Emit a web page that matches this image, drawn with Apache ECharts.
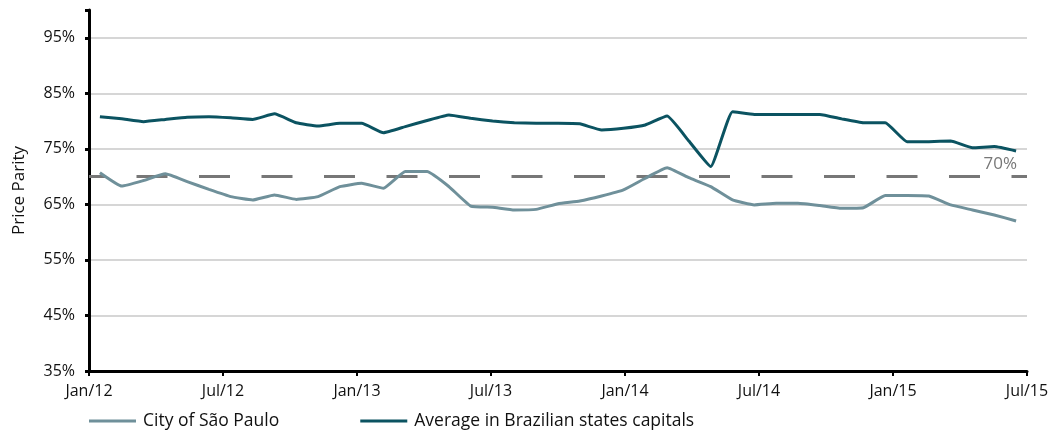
<!DOCTYPE html>
<html>
<head>
<meta charset="utf-8">
<script src="https://cdn.jsdelivr.net/npm/echarts@6/dist/echarts.min.js"></script>
<style>
  html, body { margin: 0; padding: 0; background: #fff; }
  #chart { width: 1053px; height: 432px; }
</style>
</head>
<body>
<div id="chart"></div>
<script>
// monthly points, Jan/12 .. Jul/15
const months = [
  'Jan/12', 'Feb/12', 'Mar/12', 'Apr/12', 'May/12', 'Jun/12', 'Jul/12', 'Aug/12', 'Sep/12', 'Oct/12', 'Nov/12', 'Dec/12',
  'Jan/13', 'Feb/13', 'Mar/13', 'Apr/13', 'May/13', 'Jun/13', 'Jul/13', 'Aug/13', 'Sep/13', 'Oct/13', 'Nov/13', 'Dec/13',
  'Jan/14', 'Feb/14', 'Mar/14', 'Apr/14', 'May/14', 'Jun/14', 'Jul/14', 'Aug/14', 'Sep/14', 'Oct/14', 'Nov/14', 'Dec/14',
  'Jan/15', 'Feb/15', 'Mar/15', 'Apr/15', 'May/15', 'Jun/15', 'Jul/15'
]
const tickLabels = ['Jan/12', 'Jul/12', 'Jan/13', 'Jul/13', 'Jan/14', 'Jul/14', 'Jan/15', 'Jul/15']

const saoPaulo = [
  70.7, 68.3, 69.3, 70.5, 69.1, 67.7, 66.4, 65.8, 66.7, 65.9, 66.4, 68.2,
  68.8, 67.9, 70.9, 70.9, 68.2, 64.7, 64.5, 64.0, 64.1, 65.1, 65.6, 66.5,
  67.6, 69.7, 71.6, 69.8, 68.2, 65.8, 64.9, 65.2, 65.2, 64.8, 64.3, 64.4,
  66.6, 66.6, 66.5, 64.9, 64.0, 63.1, 62.0
]
const avgCapitals = [
  80.8, 80.4, 79.9, 80.3, 80.7, 80.8, 80.6, 80.3, 81.3, 79.7, 79.1, 79.6,
  79.6, 77.9, 79.0, 80.1, 81.1, 80.5, 80.0, 79.7, 79.6, 79.6, 79.5, 78.4,
  78.7, 79.3, 80.9, 76.4, 71.8, 81.7, 81.2, 81.2, 81.2, 81.2, 80.4, 79.7,
  79.7, 76.3, 76.3, 76.4, 75.2, 75.4, 74.6
]
const parityLine = 70

const font = 'Open Sans'
const chart = echarts.init(document.getElementById('chart'))

chart.setOption({
  animation: false,
  textStyle: { fontFamily: font },
  grid: { left: 89, right: 26, top: 10, bottom: 61 },
  legend: {
    left: 89,
    top: 412,
    padding: 0,
    itemWidth: 47,
    itemHeight: 3,
    itemGap: 81,
    icon: 'rect',
    textStyle: { fontSize: 17.5, color: '#111', fontFamily: font, padding: [0, 0, 0, 2] },
    data: ['City of São Paulo', 'Average in Brazilian states capitals']
  },
  xAxis: [
    {
      type: 'category',
      data: months,
      boundaryGap: true,
      position: 'top',
      show: false
    },
    {
      type: 'value',
      min: 0,
      max: tickLabels.length - 1,
      interval: 1,
      position: 'bottom',
      axisLine: { show: true, lineStyle: { color: '#000', width: 3 } },
      axisTick: { show: true, length: 5, lineStyle: { color: '#000', width: 2 } },
      axisLabel: {
        margin: 12,
        fontSize: 16,
        color: '#111',
        formatter: v => tickLabels[v] || ''
      },
      splitLine: { show: false }
    }
  ],
  yAxis: {
    type: 'value',
    min: 35,
    max: 100,
    interval: 10,
    name: 'Price Parity',
    nameLocation: 'middle',
    nameGap: 61,
    nameTextStyle: { fontSize: 17, color: '#111', fontFamily: font },
    axisLine: { show: true, lineStyle: { color: '#000', width: 3 } },
    axisTick: { show: true, length: 4, lineStyle: { color: '#000', width: 3 } },
    axisLabel: {
      margin: 14,
      fontSize: 16,
      color: '#111',
      formatter: v => (v > 95 ? '' : v + '%')
    },
    splitLine: {
      show: true,
      lineStyle: {
        width: 1.5,
        color: ['#c8c8c8', '#c8c8c8', '#c8c8c8', '#c8c8c8', '#c8c8c8', '#c8c8c8', '#c8c8c8', 'rgba(0,0,0,0)']
      }
    }
  },
  series: [
    {
      name: 'City of São Paulo',
      type: 'line',
      xAxisIndex: 0,
      data: saoPaulo,
      symbol: 'none',
      smooth: 0.12,
      z: 3,
      lineStyle: { color: '#6f909a', width: 3 },
      itemStyle: { color: '#6f909a' },
      markLine: {
        silent: true,
        symbol: 'none',
        z: 1,
        lineStyle: { color: '#777', width: 3, type: [31, 31.5], dashOffset: 15 },
        label: {
          show: true,
          position: 'insideEndTop',
          formatter: '70%',
          color: '#777',
          fontSize: 17,
          fontFamily: font,
          distance: [10, 4]
        },
        data: [{ yAxis: parityLine }]
      }
    },
    {
      name: 'Average in Brazilian states capitals',
      type: 'line',
      xAxisIndex: 0,
      data: avgCapitals,
      symbol: 'none',
      smooth: 0.12,
      z: 4,
      lineStyle: { color: '#0b5361', width: 3 },
      itemStyle: { color: '#0b5361' }
    }
  ]
})
</script>
</body>
</html>
